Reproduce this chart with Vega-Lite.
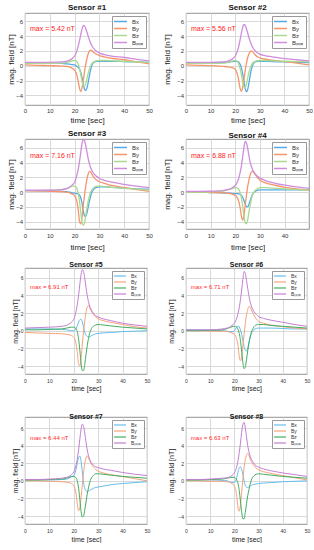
{
"$schema": "https://vega.github.io/schema/vega-lite/v6.json",
"padding": {"left": 7, "top": 3, "right": 0, "bottom": 0},
"config": {
  "font": "Liberation Sans",
  "view": {"stroke": "#777777", "strokeWidth": 0.8},
  "axis": {"domain": false, "ticks": false, "tickSize": 0, "labelColor": "#333333", "titleColor": "#222222", "titleFontWeight": "normal", "labelFlush": false, "gridColor": "#d9d9d9"},
  "title": {"fontWeight": "bold", "color": "#111111"},
  "legend": {"orient": "top-right", "offset": 3, "fillColor": "white", "strokeColor": "#999999", "padding": 2, "symbolType": "M-2.6,0L2.6,0", "symbolStrokeWidth": 1.5, "symbolOffset": 3, "rowPadding": 0, "labelOffset": 8, "labelColor": "#333333"}
},
"datasets": {
"p1": [
{"t":0,"Bx":0.4,"By":0.1,"Bz":0.3,"Bt":0.45},{"t":5,"Bx":0.35,"By":0.05,"Bz":0.3,"Bt":0.45},{"t":10,"Bx":0.35,"By":0.0,"Bz":0.3,"Bt":0.45},{"t":15,"Bx":0.3,"By":-0.05,"Bz":0.35,"Bt":0.5},{"t":17,"Bx":0.25,"By":-0.1,"Bz":0.45,"Bt":0.6},{"t":18,"Bx":0.2,"By":-0.2,"Bz":0.55,"Bt":0.75},{"t":19,"Bx":0.15,"By":-0.35,"Bz":0.65,"Bt":0.95},{"t":20,"Bx":0.1,"By":-0.6,"Bz":0.7,"Bt":1.3},{"t":20.5,"Bx":0.0,"By":-0.9,"Bz":0.65,"Bt":1.65},{"t":21,"Bx":-0.1,"By":-1.4,"Bz":0.5,"Bt":2.1},{"t":21.5,"Bx":-0.25,"By":-2.2,"Bz":0.2,"Bt":2.7},{"t":22,"Bx":-0.5,"By":-3.1,"Bz":-0.4,"Bt":3.4},{"t":22.5,"Bx":-0.9,"By":-3.5,"Bz":-1.2,"Bt":4.2},{"t":23,"Bx":-1.6,"By":-3.0,"Bz":-2.1,"Bt":4.95},{"t":23.5,"Bx":-2.5,"By":-2.0,"Bz":-2.7,"Bt":5.42},{"t":24,"Bx":-3.2,"By":-0.8,"Bz":-2.8,"Bt":5.35},{"t":24.5,"Bx":-3.35,"By":0.2,"Bz":-2.4,"Bt":5.0},{"t":25,"Bx":-3.0,"By":1.0,"Bz":-1.7,"Bt":4.5},{"t":25.5,"Bx":-2.2,"By":1.6,"Bz":-1.0,"Bt":3.95},{"t":26,"Bx":-1.3,"By":2.0,"Bz":-0.4,"Bt":3.45},{"t":26.5,"Bx":-0.5,"By":2.1,"Bz":0.0,"Bt":3.0},{"t":27,"Bx":0.1,"By":2.0,"Bz":0.3,"Bt":2.65},{"t":28,"Bx":0.5,"By":1.7,"Bz":0.55,"Bt":2.2},{"t":29,"Bx":0.6,"By":1.5,"Bz":0.65,"Bt":1.9},{"t":30,"Bx":0.6,"By":1.35,"Bz":0.7,"Bt":1.7},{"t":32,"Bx":0.6,"By":1.2,"Bz":0.7,"Bt":1.5},{"t":35,"Bx":0.6,"By":1.0,"Bz":0.65,"Bt":1.3},{"t":40,"Bx":0.55,"By":0.8,"Bz":0.6,"Bt":1.1},{"t":45,"Bx":0.5,"By":0.5,"Bz":0.5,"Bt":0.85},{"t":50,"Bx":0.45,"By":0.25,"Bz":0.45,"Bt":0.65}
],
"p2": [
{"t":0,"Bx":0.4,"By":0.1,"Bz":0.3,"Bt":0.45},{"t":5,"Bx":0.4,"By":0.05,"Bz":0.3,"Bt":0.45},{"t":10,"Bx":0.4,"By":0.0,"Bz":0.3,"Bt":0.45},{"t":15,"Bx":0.4,"By":-0.1,"Bz":0.35,"Bt":0.5},{"t":17,"Bx":0.45,"By":-0.15,"Bz":0.45,"Bt":0.6},{"t":18,"Bx":0.5,"By":-0.2,"Bz":0.55,"Bt":0.75},{"t":19,"Bx":0.55,"By":-0.3,"Bz":0.65,"Bt":0.95},{"t":20,"Bx":0.6,"By":-0.5,"Bz":0.7,"Bt":1.3},{"t":20.5,"Bx":0.6,"By":-0.8,"Bz":0.65,"Bt":1.65},{"t":21,"Bx":0.55,"By":-1.3,"Bz":0.5,"Bt":2.1},{"t":21.5,"Bx":0.45,"By":-2.1,"Bz":0.2,"Bt":2.7},{"t":22,"Bx":0.2,"By":-3.1,"Bz":-0.4,"Bt":3.5},{"t":22.5,"Bx":-0.3,"By":-3.45,"Bz":-1.2,"Bt":4.35},{"t":23,"Bx":-1.0,"By":-3.0,"Bz":-2.1,"Bt":5.1},{"t":23.5,"Bx":-2.0,"By":-2.0,"Bz":-2.8,"Bt":5.56},{"t":24,"Bx":-3.0,"By":-0.8,"Bz":-3.0,"Bt":5.45},{"t":24.5,"Bx":-3.5,"By":0.2,"Bz":-2.6,"Bt":5.05},{"t":25,"Bx":-3.3,"By":1.0,"Bz":-1.8,"Bt":4.5},{"t":25.5,"Bx":-2.5,"By":1.5,"Bz":-1.0,"Bt":3.9},{"t":26,"Bx":-1.5,"By":1.85,"Bz":-0.4,"Bt":3.35},{"t":26.5,"Bx":-0.6,"By":2.0,"Bz":0.0,"Bt":2.9},{"t":27,"Bx":0.0,"By":1.9,"Bz":0.3,"Bt":2.55},{"t":28,"Bx":0.5,"By":1.5,"Bz":0.55,"Bt":2.05},{"t":29,"Bx":0.6,"By":1.2,"Bz":0.65,"Bt":1.75},{"t":30,"Bx":0.6,"By":1.05,"Bz":0.7,"Bt":1.55},{"t":32,"Bx":0.6,"By":0.9,"Bz":0.7,"Bt":1.35},{"t":35,"Bx":0.55,"By":0.75,"Bz":0.65,"Bt":1.2},{"t":40,"Bx":0.5,"By":0.55,"Bz":0.6,"Bt":0.95},{"t":45,"Bx":0.45,"By":0.35,"Bz":0.55,"Bt":0.8},{"t":50,"Bx":0.4,"By":0.1,"Bz":0.5,"Bt":0.65}
],
"p3": [
{"t":0,"Bx":0.2,"By":0.2,"Bz":0.2,"Bt":0.25},{"t":5,"Bx":0.2,"By":0.15,"Bz":0.2,"Bt":0.25},{"t":10,"Bx":0.15,"By":0.1,"Bz":0.25,"Bt":0.25},{"t":15,"Bx":0.1,"By":0.05,"Bz":0.35,"Bt":0.35},{"t":17,"Bx":0.05,"By":0.0,"Bz":0.5,"Bt":0.5},{"t":18,"Bx":0.0,"By":-0.1,"Bz":0.65,"Bt":0.7},{"t":19,"Bx":-0.1,"By":-0.25,"Bz":0.8,"Bt":0.95},{"t":20,"Bx":-0.15,"By":-0.5,"Bz":0.8,"Bt":1.35},{"t":20.5,"Bx":-0.2,"By":-0.8,"Bz":0.7,"Bt":1.8},{"t":21,"Bx":-0.2,"By":-1.4,"Bz":0.4,"Bt":2.4},{"t":21.5,"Bx":-0.25,"By":-2.5,"Bz":-0.2,"Bt":3.2},{"t":22,"Bx":-0.4,"By":-4.0,"Bz":-1.3,"Bt":4.2},{"t":22.5,"Bx":-0.8,"By":-4.3,"Bz":-2.8,"Bt":5.4},{"t":23,"Bx":-1.5,"By":-3.4,"Bz":-4.1,"Bt":6.6},{"t":23.5,"Bx":-2.5,"By":-1.8,"Bz":-4.5,"Bt":7.16},{"t":24,"Bx":-3.2,"By":-0.4,"Bz":-4.2,"Bt":6.95},{"t":24.5,"Bx":-3.3,"By":0.8,"Bz":-3.2,"Bt":6.3},{"t":25,"Bx":-2.8,"By":1.8,"Bz":-2.1,"Bt":5.4},{"t":25.5,"Bx":-2.0,"By":2.5,"Bz":-1.2,"Bt":4.5},{"t":26,"Bx":-1.2,"By":2.8,"Bz":-0.5,"Bt":3.8},{"t":26.5,"Bx":-0.5,"By":2.7,"Bz":0.0,"Bt":3.3},{"t":27,"Bx":0.0,"By":2.4,"Bz":0.3,"Bt":2.9},{"t":28,"Bx":0.5,"By":1.9,"Bz":0.65,"Bt":2.4},{"t":29,"Bx":0.65,"By":1.6,"Bz":0.8,"Bt":2.1},{"t":30,"Bx":0.7,"By":1.4,"Bz":0.8,"Bt":1.85},{"t":32,"Bx":0.7,"By":1.2,"Bz":0.75,"Bt":1.6},{"t":35,"Bx":0.65,"By":0.9,"Bz":0.65,"Bt":1.35},{"t":40,"Bx":0.55,"By":0.6,"Bz":0.5,"Bt":1.05},{"t":45,"Bx":0.45,"By":0.35,"Bz":0.4,"Bt":0.8},{"t":50,"Bx":0.4,"By":0.1,"Bz":0.3,"Bt":0.6}
],
"p4": [
{"t":0,"Bx":0.0,"By":0.0,"Bz":0.0,"Bt":0.1},{"t":5,"Bx":0.0,"By":0.0,"Bz":0.0,"Bt":0.1},{"t":10,"Bx":-0.05,"By":-0.05,"Bz":0.05,"Bt":0.12},{"t":15,"Bx":-0.1,"By":-0.1,"Bz":0.15,"Bt":0.2},{"t":17,"Bx":-0.15,"By":-0.15,"Bz":0.3,"Bt":0.35},{"t":18,"Bx":-0.15,"By":-0.2,"Bz":0.4,"Bt":0.45},{"t":19,"Bx":-0.2,"By":-0.3,"Bz":0.5,"Bt":0.65},{"t":20,"Bx":-0.2,"By":-0.45,"Bz":0.6,"Bt":0.9},{"t":20.5,"Bx":-0.2,"By":-0.6,"Bz":0.6,"Bt":1.15},{"t":21,"Bx":-0.2,"By":-0.9,"Bz":0.5,"Bt":1.5},{"t":21.5,"Bx":-0.25,"By":-1.4,"Bz":0.3,"Bt":2.0},{"t":22,"Bx":-0.3,"By":-2.2,"Bz":-0.1,"Bt":2.7},{"t":22.5,"Bx":-0.45,"By":-3.3,"Bz":-0.8,"Bt":3.6},{"t":23,"Bx":-0.7,"By":-3.8,"Bz":-1.9,"Bt":4.8},{"t":23.5,"Bx":-1.1,"By":-3.2,"Bz":-3.2,"Bt":6.0},{"t":24,"Bx":-1.6,"By":-1.8,"Bz":-4.1,"Bt":6.88},{"t":24.5,"Bx":-1.95,"By":-0.5,"Bz":-4.3,"Bt":6.7},{"t":25,"Bx":-2.0,"By":0.7,"Bz":-3.8,"Bt":6.0},{"t":25.5,"Bx":-1.7,"By":1.6,"Bz":-2.8,"Bt":5.0},{"t":26,"Bx":-1.2,"By":2.3,"Bz":-1.8,"Bt":4.1},{"t":26.5,"Bx":-0.7,"By":2.7,"Bz":-1.0,"Bt":3.5},{"t":27,"Bx":-0.3,"By":2.8,"Bz":-0.4,"Bt":3.05},{"t":28,"Bx":0.1,"By":2.4,"Bz":0.2,"Bt":2.5},{"t":29,"Bx":0.25,"By":2.0,"Bz":0.45,"Bt":2.15},{"t":30,"Bx":0.3,"By":1.6,"Bz":0.6,"Bt":1.9},{"t":32,"Bx":0.3,"By":1.3,"Bz":0.6,"Bt":1.6},{"t":35,"Bx":0.3,"By":1.0,"Bz":0.55,"Bt":1.3},{"t":40,"Bx":0.3,"By":0.65,"Bz":0.45,"Bt":0.95},{"t":45,"Bx":0.3,"By":0.45,"Bz":0.35,"Bt":0.7},{"t":49.9,"Bx":0.3,"By":0.3,"Bz":0.3,"Bt":0.5}
],
"p5": [
{"t":0,"Bx":0.2,"By":-0.2,"Bz":0.1,"Bt":0.3},{"t":5,"Bx":0.2,"By":-0.25,"Bz":0.1,"Bt":0.35},{"t":10,"Bx":0.2,"By":-0.3,"Bz":0.15,"Bt":0.4},{"t":15,"Bx":0.15,"By":-0.35,"Bz":0.2,"Bt":0.5},{"t":17,"Bx":0.1,"By":-0.4,"Bz":0.3,"Bt":0.6},{"t":18,"Bx":0.05,"By":-0.45,"Bz":0.35,"Bt":0.75},{"t":19,"Bx":0.0,"By":-0.55,"Bz":0.4,"Bt":0.95},{"t":20,"Bx":0.0,"By":-0.75,"Bz":0.4,"Bt":1.3},{"t":20.5,"Bx":0.1,"By":-1.0,"Bz":0.35,"Bt":1.7},{"t":21,"Bx":0.3,"By":-1.6,"Bz":0.2,"Bt":2.3},{"t":21.5,"Bx":0.6,"By":-2.6,"Bz":-0.2,"Bt":3.1},{"t":22,"Bx":1.0,"By":-3.8,"Bz":-1.0,"Bt":4.1},{"t":22.5,"Bx":1.25,"By":-4.0,"Bz":-2.3,"Bt":5.3},{"t":23,"Bx":1.3,"By":-3.0,"Bz":-3.7,"Bt":6.4},{"t":23.5,"Bx":1.0,"By":-1.5,"Bz":-4.5,"Bt":6.91},{"t":24,"Bx":0.4,"By":-0.1,"Bz":-4.5,"Bt":6.7},{"t":24.5,"Bx":-0.2,"By":1.1,"Bz":-3.8,"Bt":5.9},{"t":25,"Bx":-0.5,"By":2.1,"Bz":-2.7,"Bt":4.9},{"t":25.5,"Bx":-0.65,"By":2.7,"Bz":-1.7,"Bt":4.0},{"t":26,"Bx":-0.7,"By":2.85,"Bz":-0.9,"Bt":3.3},{"t":26.5,"Bx":-0.7,"By":2.6,"Bz":-0.3,"Bt":2.8},{"t":27,"Bx":-0.6,"By":2.3,"Bz":0.1,"Bt":2.45},{"t":28,"Bx":-0.45,"By":1.85,"Bz":0.5,"Bt":2.0},{"t":29,"Bx":-0.35,"By":1.55,"Bz":0.65,"Bt":1.7},{"t":30,"Bx":-0.3,"By":1.35,"Bz":0.7,"Bt":1.55},{"t":32,"Bx":-0.25,"By":1.15,"Bz":0.65,"Bt":1.35},{"t":35,"Bx":-0.2,"By":0.95,"Bz":0.55,"Bt":1.15},{"t":40,"Bx":-0.1,"By":0.7,"Bz":0.4,"Bt":0.85},{"t":45,"Bx":-0.05,"By":0.45,"Bz":0.3,"Bt":0.65},{"t":50,"Bx":0.0,"By":0.3,"Bz":0.2,"Bt":0.5}
],
"p6": [
{"t":0,"Bx":0.1,"By":0.0,"Bz":0.0,"Bt":0.1},{"t":5,"Bx":0.1,"By":0.0,"Bz":0.0,"Bt":0.1},{"t":10,"Bx":0.05,"By":-0.05,"Bz":0.05,"Bt":0.1},{"t":15,"Bx":0.0,"By":-0.05,"Bz":0.1,"Bt":0.2},{"t":17,"Bx":-0.05,"By":-0.1,"Bz":0.25,"Bt":0.3},{"t":18,"Bx":-0.1,"By":-0.15,"Bz":0.35,"Bt":0.4},{"t":19,"Bx":-0.1,"By":-0.25,"Bz":0.45,"Bt":0.6},{"t":20,"Bx":0.0,"By":-0.4,"Bz":0.5,"Bt":0.85},{"t":20.5,"Bx":0.2,"By":-0.6,"Bz":0.5,"Bt":1.1},{"t":21,"Bx":0.45,"By":-1.0,"Bz":0.4,"Bt":1.45},{"t":21.5,"Bx":0.55,"By":-1.7,"Bz":0.15,"Bt":1.95},{"t":22,"Bx":0.45,"By":-2.9,"Bz":-0.3,"Bt":2.6},{"t":22.5,"Bx":0.1,"By":-3.4,"Bz":-1.1,"Bt":3.5},{"t":23,"Bx":-0.4,"By":-2.9,"Bz":-2.3,"Bt":4.6},{"t":23.5,"Bx":-1.1,"By":-1.7,"Bz":-3.6,"Bt":5.8},{"t":24,"Bx":-1.8,"By":-0.4,"Bz":-4.3,"Bt":6.71},{"t":24.5,"Bx":-2.2,"By":0.8,"Bz":-4.1,"Bt":6.5},{"t":25,"Bx":-2.3,"By":1.8,"Bz":-3.3,"Bt":5.7},{"t":25.5,"Bx":-2.0,"By":2.4,"Bz":-2.3,"Bt":4.8},{"t":26,"Bx":-1.4,"By":2.75,"Bz":-1.4,"Bt":3.95},{"t":26.5,"Bx":-0.8,"By":2.7,"Bz":-0.7,"Bt":3.3},{"t":27,"Bx":-0.3,"By":2.4,"Bz":-0.2,"Bt":2.8},{"t":28,"Bx":0.1,"By":1.8,"Bz":0.4,"Bt":2.2},{"t":29,"Bx":0.25,"By":1.35,"Bz":0.65,"Bt":1.85},{"t":30,"Bx":0.3,"By":1.05,"Bz":0.7,"Bt":1.6},{"t":32,"Bx":0.3,"By":0.85,"Bz":0.7,"Bt":1.4},{"t":35,"Bx":0.3,"By":0.65,"Bz":0.6,"Bt":1.2},{"t":40,"Bx":0.25,"By":0.45,"Bz":0.5,"Bt":0.95},{"t":45,"Bx":0.2,"By":0.3,"Bz":0.4,"Bt":0.7},{"t":50,"Bx":0.2,"By":0.2,"Bz":0.3,"Bt":0.5}
],
"p7": [
{"t":0,"Bx":0.1,"By":0.0,"Bz":0.1,"Bt":0.15},{"t":5,"Bx":0.1,"By":0.0,"Bz":0.1,"Bt":0.15},{"t":10,"Bx":0.1,"By":-0.05,"Bz":0.15,"Bt":0.2},{"t":15,"Bx":0.15,"By":-0.1,"Bz":0.2,"Bt":0.3},{"t":17,"Bx":0.2,"By":-0.15,"Bz":0.3,"Bt":0.4},{"t":18,"Bx":0.3,"By":-0.2,"Bz":0.4,"Bt":0.5},{"t":19,"Bx":0.45,"By":-0.3,"Bz":0.5,"Bt":0.7},{"t":20,"Bx":0.6,"By":-0.55,"Bz":0.5,"Bt":1.0},{"t":20.5,"Bx":0.9,"By":-0.9,"Bz":0.45,"Bt":1.35},{"t":21,"Bx":1.4,"By":-1.6,"Bz":0.3,"Bt":1.85},{"t":21.5,"Bx":2.1,"By":-2.8,"Bz":-0.1,"Bt":2.6},{"t":22,"Bx":2.7,"By":-3.4,"Bz":-0.9,"Bt":3.6},{"t":22.5,"Bx":2.8,"By":-3.0,"Bz":-2.2,"Bt":4.8},{"t":23,"Bx":2.2,"By":-1.8,"Bz":-3.5,"Bt":5.9},{"t":23.5,"Bx":1.0,"By":-0.4,"Bz":-4.1,"Bt":6.44},{"t":24,"Bx":-0.2,"By":0.9,"Bz":-4.0,"Bt":6.2},{"t":24.5,"Bx":-0.9,"By":2.0,"Bz":-3.3,"Bt":5.4},{"t":25,"Bx":-1.15,"By":2.6,"Bz":-2.4,"Bt":4.4},{"t":25.5,"Bx":-1.2,"By":2.85,"Bz":-1.5,"Bt":3.5},{"t":26,"Bx":-1.15,"By":2.6,"Bz":-0.8,"Bt":2.9},{"t":26.5,"Bx":-1.1,"By":2.3,"Bz":-0.2,"Bt":2.45},{"t":27,"Bx":-1.0,"By":2.0,"Bz":0.2,"Bt":2.15},{"t":28,"Bx":-0.85,"By":1.6,"Bz":0.6,"Bt":1.8},{"t":29,"Bx":-0.75,"By":1.3,"Bz":0.8,"Bt":1.6},{"t":30,"Bx":-0.7,"By":1.1,"Bz":0.8,"Bt":1.5},{"t":32,"Bx":-0.6,"By":0.9,"Bz":0.75,"Bt":1.35},{"t":35,"Bx":-0.45,"By":0.7,"Bz":0.65,"Bt":1.2},{"t":40,"Bx":-0.3,"By":0.5,"Bz":0.5,"Bt":0.95},{"t":45,"Bx":-0.2,"By":0.25,"Bz":0.4,"Bt":0.75},{"t":50,"Bx":-0.1,"By":0.0,"Bz":0.3,"Bt":0.6}
],
"p8": [
{"t":0,"Bx":0.1,"By":0.0,"Bz":0.1,"Bt":0.15},{"t":5,"Bx":0.1,"By":0.0,"Bz":0.1,"Bt":0.15},{"t":10,"Bx":0.1,"By":-0.05,"Bz":0.15,"Bt":0.2},{"t":15,"Bx":0.05,"By":-0.05,"Bz":0.2,"Bt":0.3},{"t":17,"Bx":0.0,"By":-0.1,"Bz":0.3,"Bt":0.35},{"t":18,"Bx":-0.1,"By":-0.15,"Bz":0.35,"Bt":0.45},{"t":19,"Bx":-0.2,"By":-0.3,"Bz":0.4,"Bt":0.6},{"t":20,"Bx":-0.15,"By":-0.6,"Bz":0.4,"Bt":0.9},{"t":20.5,"Bx":0.0,"By":-1.0,"Bz":0.3,"Bt":1.2},{"t":21,"Bx":0.4,"By":-1.8,"Bz":0.1,"Bt":1.65},{"t":21.5,"Bx":1.0,"By":-3.1,"Bz":-0.3,"Bt":2.3},{"t":22,"Bx":1.5,"By":-3.45,"Bz":-1.1,"Bt":3.2},{"t":22.5,"Bx":1.6,"By":-2.7,"Bz":-2.3,"Bt":4.3},{"t":23,"Bx":1.3,"By":-1.3,"Bz":-3.5,"Bt":5.5},{"t":23.5,"Bx":0.7,"By":0.2,"Bz":-4.3,"Bt":6.4},{"t":24,"Bx":0.0,"By":1.5,"Bz":-4.3,"Bt":6.63},{"t":24.5,"Bx":-0.5,"By":2.4,"Bz":-3.6,"Bt":6.0},{"t":25,"Bx":-0.7,"By":2.9,"Bz":-2.6,"Bt":5.0},{"t":25.5,"Bx":-0.75,"By":3.1,"Bz":-1.7,"Bt":4.0},{"t":26,"Bx":-0.7,"By":2.9,"Bz":-1.0,"Bt":3.3},{"t":26.5,"Bx":-0.6,"By":2.5,"Bz":-0.4,"Bt":2.8},{"t":27,"Bx":-0.5,"By":2.2,"Bz":0.1,"Bt":2.45},{"t":28,"Bx":-0.4,"By":1.75,"Bz":0.55,"Bt":2.0},{"t":29,"Bx":-0.35,"By":1.45,"Bz":0.75,"Bt":1.7},{"t":30,"Bx":-0.3,"By":1.25,"Bz":0.8,"Bt":1.55},{"t":32,"Bx":-0.25,"By":1.05,"Bz":0.75,"Bt":1.35},{"t":35,"Bx":-0.2,"By":0.85,"Bz":0.65,"Bt":1.15},{"t":40,"Bx":-0.1,"By":0.6,"Bz":0.5,"Bt":0.9},{"t":45,"Bx":-0.05,"By":0.35,"Bz":0.4,"Bt":0.7},{"t":50,"Bx":0.0,"By":0.1,"Bz":0.3,"Bt":0.5}
]
},
"spacing": 8,
"resolve": {"scale": {"color": "independent"}},
"vconcat": [
{"spacing": 4, "resolve": {"scale": {"color": "independent"}}, "vconcat": [
 {"spacing": 10, "resolve": {"scale": {"color": "independent"}}, "hconcat": [
  {"width": 124, "height": 92, "title": {"text": "Sensor #1", "fontSize": 8, "offset": 1},
   "data": {"name": "p1"}, "transform": [{"fold": ["Bx","By","Bz","Bt"], "as": ["k","v"]}],
   "resolve": {"axis": {"x": "independent", "y": "independent"}},
   "layer": [
    {"mark": {"type": "line", "strokeWidth": 1.3, "interpolate": "monotone"},
     "encoding": {
      "x": {"field": "t", "type": "quantitative", "scale": {"domain": [0,50], "nice": false}, "axis": {"title": "time [sec]", "values": [0,10,20,30,40,50], "labelFontSize": 6, "titleFontSize": 8, "labelPadding": 2, "titlePadding": 3}},
      "y": {"field": "v", "type": "quantitative", "scale": {"domain": [-5.3,7.1], "nice": false}, "axis": {"title": "mag. field [nT]", "values": [-4,-2,0,2,4,6], "labelFontSize": 6, "titleFontSize": 8, "labelPadding": 2.5, "titlePadding": 0}},
      "color": {"field": "k", "type": "nominal", "scale": {"domain": ["Bx","By","Bz","Bt"], "range": ["#55aae6","#f7956a","#a8db8f","#cf8ddc"]}, "legend": {"title": null, "labelFontSize": 6, "symbolSize": 25, "labelExpr": "datum.label == 'Bt' ? 'Bₜₒₜₐₗ' : datum.label"}}
     }},
    {"data": {"values": [{}]}, "mark": {"type": "text", "color": "#ff1a1a", "fontSize": 7, "align": "left", "baseline": "middle"},
     "encoding": {
      "x": {"datum": 2, "axis": {"orient": "bottom", "values": [2,4,6,8,12,14,16,18,22,24,26,28,32,34,36,38,42,44,46,48], "labels": false, "title": null, "gridColor": "#e6e6e6", "gridDash": [1,1.5]}},
      "y": {"datum": 4.9, "axis": {"orient": "left", "values": [-5,-4.5,-3.5,-3,-2.5,-1.5,-1,-0.5,0.5,1,1.5,2.5,3,3.5,4.5,5,5.5,6.5,7], "labels": false, "title": null, "gridColor": "#e6e6e6", "gridDash": [1,1.5]}},
      "text": {"value": "max = 5.42 nT"}}}
   ]},
  {"width": 123, "height": 92, "title": {"text": "Sensor #2", "fontSize": 8, "offset": 1},
   "data": {"name": "p2"}, "transform": [{"fold": ["Bx","By","Bz","Bt"], "as": ["k","v"]}],
   "resolve": {"axis": {"x": "independent", "y": "independent"}},
   "layer": [
    {"mark": {"type": "line", "strokeWidth": 1.3, "interpolate": "monotone"},
     "encoding": {
      "x": {"field": "t", "type": "quantitative", "scale": {"domain": [0,50], "nice": false}, "axis": {"title": "time [sec]", "values": [0,10,20,30,40,50], "labelFontSize": 6, "titleFontSize": 8, "labelPadding": 2, "titlePadding": 3}},
      "y": {"field": "v", "type": "quantitative", "scale": {"domain": [-5.3,7.1], "nice": false}, "axis": {"title": "mag. field [nT]", "values": [-4,-2,0,2,4,6], "labelFontSize": 6, "titleFontSize": 8, "labelPadding": 2.5, "titlePadding": 5}},
      "color": {"field": "k", "type": "nominal", "scale": {"domain": ["Bx","By","Bz","Bt"], "range": ["#55aae6","#f7956a","#a8db8f","#cf8ddc"]}, "legend": {"title": null, "labelFontSize": 6, "symbolSize": 25, "labelExpr": "datum.label == 'Bt' ? 'Bₜₒₜₐₗ' : datum.label"}}
     }},
    {"data": {"values": [{}]}, "mark": {"type": "text", "color": "#ff1a1a", "fontSize": 7, "align": "left", "baseline": "middle"},
     "encoding": {
      "x": {"datum": 2, "axis": {"orient": "bottom", "values": [2,4,6,8,12,14,16,18,22,24,26,28,32,34,36,38,42,44,46,48], "labels": false, "title": null, "gridColor": "#e6e6e6", "gridDash": [1,1.5]}},
      "y": {"datum": 4.9, "axis": {"orient": "left", "values": [-5,-4.5,-3.5,-3,-2.5,-1.5,-1,-0.5,0.5,1,1.5,2.5,3,3.5,4.5,5,5.5,6.5,7], "labels": false, "title": null, "gridColor": "#e6e6e6", "gridDash": [1,1.5]}},
      "text": {"value": "max = 5.56 nT"}}}
   ]}
 ]},
 {"spacing": 10, "resolve": {"scale": {"color": "independent"}}, "hconcat": [
  {"width": 124, "height": 90, "title": {"text": "Sensor #3", "fontSize": 8, "offset": -1},
   "data": {"name": "p3"}, "transform": [{"fold": ["Bx","By","Bz","Bt"], "as": ["k","v"]}],
   "resolve": {"axis": {"x": "independent", "y": "independent"}},
   "layer": [
    {"mark": {"type": "line", "strokeWidth": 1.3, "interpolate": "monotone"},
     "encoding": {
      "x": {"field": "t", "type": "quantitative", "scale": {"domain": [0,50], "nice": false}, "axis": {"title": "time [sec]", "values": [0,10,20,30,40,50], "labelFontSize": 6, "titleFontSize": 8, "labelPadding": 3, "titlePadding": 5}},
      "y": {"field": "v", "type": "quantitative", "scale": {"domain": [-5,7.2], "nice": false}, "axis": {"title": "mag. field [nT]", "values": [-4,-2,0,2,4,6], "labelFontSize": 6, "titleFontSize": 8, "labelPadding": 2.5, "titlePadding": 0}},
      "color": {"field": "k", "type": "nominal", "scale": {"domain": ["Bx","By","Bz","Bt"], "range": ["#55aae6","#f7956a","#a8db8f","#cf8ddc"]}, "legend": {"title": null, "labelFontSize": 6, "symbolSize": 25, "labelExpr": "datum.label == 'Bt' ? 'Bₜₒₜₐₗ' : datum.label"}}
     }},
    {"data": {"values": [{}]}, "mark": {"type": "text", "color": "#ff1a1a", "fontSize": 7, "align": "left", "baseline": "middle"},
     "encoding": {
      "x": {"datum": 2, "axis": {"orient": "bottom", "values": [2,4,6,8,12,14,16,18,22,24,26,28,32,34,36,38,42,44,46,48], "labels": false, "title": null, "gridColor": "#e6e6e6", "gridDash": [1,1.5]}},
      "y": {"datum": 4.9, "axis": {"orient": "left", "values": [-4.5,-3.5,-3,-2.5,-1.5,-1,-0.5,0.5,1,1.5,2.5,3,3.5,4.5,5,5.5,6.5,7], "labels": false, "title": null, "gridColor": "#e6e6e6", "gridDash": [1,1.5]}},
      "text": {"value": "max = 7.16 nT"}}}
   ]},
  {"width": 123, "height": 90, "title": {"text": "Sensor #4", "fontSize": 8, "offset": -1},
   "data": {"name": "p4"}, "transform": [{"fold": ["Bx","By","Bz","Bt"], "as": ["k","v"]}],
   "resolve": {"axis": {"x": "independent", "y": "independent"}},
   "layer": [
    {"mark": {"type": "line", "strokeWidth": 1.3, "interpolate": "monotone"},
     "encoding": {
      "x": {"field": "t", "type": "quantitative", "scale": {"domain": [0,49.9], "nice": false}, "axis": {"title": "time [sec]", "values": [0,10,20,30,40], "labelFontSize": 6, "titleFontSize": 8, "labelPadding": 3, "titlePadding": 5}},
      "y": {"field": "v", "type": "quantitative", "scale": {"domain": [-5,7.2], "nice": false}, "axis": {"title": "mag. field [nT]", "values": [-4,-2,0,2,4,6], "labelFontSize": 6, "titleFontSize": 8, "labelPadding": 2.5, "titlePadding": 5}},
      "color": {"field": "k", "type": "nominal", "scale": {"domain": ["Bx","By","Bz","Bt"], "range": ["#55aae6","#f7956a","#a8db8f","#cf8ddc"]}, "legend": {"title": null, "labelFontSize": 6, "symbolSize": 25, "labelExpr": "datum.label == 'Bt' ? 'Bₜₒₜₐₗ' : datum.label"}}
     }},
    {"data": {"values": [{}]}, "mark": {"type": "text", "color": "#ff1a1a", "fontSize": 7, "align": "left", "baseline": "middle"},
     "encoding": {
      "x": {"datum": 2, "axis": {"orient": "bottom", "values": [2,4,6,8,12,14,16,18,22,24,26,28,32,34,36,38,42,44,46,48], "labels": false, "title": null, "gridColor": "#e6e6e6", "gridDash": [1,1.5]}},
      "y": {"datum": 4.9, "axis": {"orient": "left", "values": [-4.5,-3.5,-3,-2.5,-1.5,-1,-0.5,0.5,1,1.5,2.5,3,3.5,4.5,5,5.5,6.5,7], "labels": false, "title": null, "gridColor": "#e6e6e6", "gridDash": [1,1.5]}},
      "text": {"value": "max = 6.88 nT"}}}
   ]}
 ]}
]},
{"spacing": 20, "resolve": {"scale": {"color": "independent"}}, "vconcat": [
 {"spacing": 16, "resolve": {"scale": {"color": "independent"}}, "hconcat": [
  {"width": 122, "height": 106, "title": {"text": "Sensor #5", "fontSize": 7, "offset": 0},
   "data": {"name": "p5"}, "transform": [{"fold": ["Bx","By","Bz","Bt"], "as": ["k","v"]}],
   "resolve": {"axis": {"x": "independent", "y": "independent"}},
   "layer": [
    {"mark": {"type": "line", "strokeWidth": 1, "interpolate": "monotone"},
     "encoding": {
      "x": {"field": "t", "type": "quantitative", "scale": {"domain": [0,50], "nice": false}, "axis": {"title": "time [sec]", "values": [0,10,20,30,40,50], "labelFontSize": 5, "titleFontSize": 7, "labelPadding": 4, "titlePadding": 1}},
      "y": {"field": "v", "type": "quantitative", "scale": {"domain": [-4.9,7.1], "nice": false}, "axis": {"title": "mag. field [nT]", "values": [-4,-2,0,2,4,6], "labelFontSize": 5, "titleFontSize": 7, "labelPadding": 2, "titlePadding": -1}},
      "color": {"field": "k", "type": "nominal", "scale": {"domain": ["Bx","By","Bz","Bt"], "range": ["#66bdec","#f7a27a","#43ad5f","#c47fd3"]}, "legend": {"title": null, "labelFontSize": 5, "symbolSize": 16, "symbolType": "M-3,0L3,0", "symbolStrokeWidth": 1.2, "labelExpr": "datum.label == 'Bt' ? 'Bₜₒₜₐₗ' : datum.label"}}
     }},
    {"data": {"values": [{}]}, "mark": {"type": "text", "color": "#ff2a2a", "fontSize": 6, "align": "left", "baseline": "middle"},
     "encoding": {
      "x": {"datum": 2, "axis": {"orient": "bottom", "values": [2,4,6,8,12,14,16,18,22,24,26,28,32,34,36,38,42,44,46,48], "labels": false, "title": null, "gridColor": "#ececec", "gridDash": [1,1.5]}},
      "y": {"datum": 4.9, "axis": {"orient": "left", "values": [-4.5,-3.5,-3,-2.5,-1.5,-1,-0.5,0.5,1,1.5,2.5,3,3.5,4.5,5,5.5,6.5,7], "labels": false, "title": null, "gridColor": "#ececec", "gridDash": [1,1.5]}},
      "text": {"value": "max = 6.91 nT"}}}
   ]},
  {"width": 121, "height": 106, "title": {"text": "Sensor #6", "fontSize": 7, "offset": 0},
   "data": {"name": "p6"}, "transform": [{"fold": ["Bx","By","Bz","Bt"], "as": ["k","v"]}],
   "resolve": {"axis": {"x": "independent", "y": "independent"}},
   "layer": [
    {"mark": {"type": "line", "strokeWidth": 1, "interpolate": "monotone"},
     "encoding": {
      "x": {"field": "t", "type": "quantitative", "scale": {"domain": [0,50], "nice": false}, "axis": {"title": "time [sec]", "values": [0,10,20,30,40,50], "labelFontSize": 5, "titleFontSize": 7, "labelPadding": 4, "titlePadding": 1}},
      "y": {"field": "v", "type": "quantitative", "scale": {"domain": [-4.9,7.1], "nice": false}, "axis": {"title": "mag. field [nT]", "values": [-4,-2,0,2,4,6], "labelFontSize": 5, "titleFontSize": 7, "labelPadding": 2.5, "titlePadding": 3}},
      "color": {"field": "k", "type": "nominal", "scale": {"domain": ["Bx","By","Bz","Bt"], "range": ["#66bdec","#f7a27a","#43ad5f","#c47fd3"]}, "legend": {"title": null, "labelFontSize": 5, "symbolSize": 16, "symbolType": "M-3,0L3,0", "symbolStrokeWidth": 1.2, "labelExpr": "datum.label == 'Bt' ? 'Bₜₒₜₐₗ' : datum.label"}}
     }},
    {"data": {"values": [{}]}, "mark": {"type": "text", "color": "#ff2a2a", "fontSize": 6, "align": "left", "baseline": "middle"},
     "encoding": {
      "x": {"datum": 2, "axis": {"orient": "bottom", "values": [2,4,6,8,12,14,16,18,22,24,26,28,32,34,36,38,42,44,46,48], "labels": false, "title": null, "gridColor": "#ececec", "gridDash": [1,1.5]}},
      "y": {"datum": 4.9, "axis": {"orient": "left", "values": [-4.5,-3.5,-3,-2.5,-1.5,-1,-0.5,0.5,1,1.5,2.5,3,3.5,4.5,5,5.5,6.5,7], "labels": false, "title": null, "gridColor": "#ececec", "gridDash": [1,1.5]}},
      "text": {"value": "max = 6.71 nT"}}}
   ]}
 ]},
 {"spacing": 16, "resolve": {"scale": {"color": "independent"}}, "hconcat": [
  {"width": 122, "height": 107, "title": {"text": "Sensor #7", "fontSize": 7, "offset": -3},
   "data": {"name": "p7"}, "transform": [{"fold": ["Bx","By","Bz","Bt"], "as": ["k","v"]}],
   "resolve": {"axis": {"x": "independent", "y": "independent"}},
   "layer": [
    {"mark": {"type": "line", "strokeWidth": 1, "interpolate": "monotone"},
     "encoding": {
      "x": {"field": "t", "type": "quantitative", "scale": {"domain": [0,50], "nice": false}, "axis": {"title": "time [sec]", "values": [0,10,20,30,40,50], "labelFontSize": 5, "titleFontSize": 7, "labelPadding": 4, "titlePadding": 2}},
      "y": {"field": "v", "type": "quantitative", "scale": {"domain": [-4.9,7.25], "nice": false}, "axis": {"title": "mag. field [nT]", "values": [-4,-2,0,2,4,6], "labelFontSize": 5, "titleFontSize": 7, "labelPadding": 2, "titlePadding": -1}},
      "color": {"field": "k", "type": "nominal", "scale": {"domain": ["Bx","By","Bz","Bt"], "range": ["#66bdec","#f7a27a","#43ad5f","#c47fd3"]}, "legend": {"title": null, "labelFontSize": 5, "symbolSize": 16, "symbolType": "M-3,0L3,0", "symbolStrokeWidth": 1.2, "labelExpr": "datum.label == 'Bt' ? 'Bₜₒₜₐₗ' : datum.label"}}
     }},
    {"data": {"values": [{}]}, "mark": {"type": "text", "color": "#ff2a2a", "fontSize": 6, "align": "left", "baseline": "middle"},
     "encoding": {
      "x": {"datum": 2, "axis": {"orient": "bottom", "values": [2,4,6,8,12,14,16,18,22,24,26,28,32,34,36,38,42,44,46,48], "labels": false, "title": null, "gridColor": "#ececec", "gridDash": [1,1.5]}},
      "y": {"datum": 4.9, "axis": {"orient": "left", "values": [-4.5,-3.5,-3,-2.5,-1.5,-1,-0.5,0.5,1,1.5,2.5,3,3.5,4.5,5,5.5,6.5,7], "labels": false, "title": null, "gridColor": "#ececec", "gridDash": [1,1.5]}},
      "text": {"value": "max = 6.44 nT"}}}
   ]},
  {"width": 121, "height": 107, "title": {"text": "Sensor #8", "fontSize": 7, "offset": -3},
   "data": {"name": "p8"}, "transform": [{"fold": ["Bx","By","Bz","Bt"], "as": ["k","v"]}],
   "resolve": {"axis": {"x": "independent", "y": "independent"}},
   "layer": [
    {"mark": {"type": "line", "strokeWidth": 1, "interpolate": "monotone"},
     "encoding": {
      "x": {"field": "t", "type": "quantitative", "scale": {"domain": [0,50], "nice": false}, "axis": {"title": "time [sec]", "values": [0,10,20,30,40,50], "labelFontSize": 5, "titleFontSize": 7, "labelPadding": 4, "titlePadding": 2}},
      "y": {"field": "v", "type": "quantitative", "scale": {"domain": [-4.9,7.25], "nice": false}, "axis": {"title": "mag. field [nT]", "values": [-4,-2,0,2,4,6], "labelFontSize": 5, "titleFontSize": 7, "labelPadding": 2.5, "titlePadding": 3}},
      "color": {"field": "k", "type": "nominal", "scale": {"domain": ["Bx","By","Bz","Bt"], "range": ["#66bdec","#f7a27a","#43ad5f","#c47fd3"]}, "legend": {"title": null, "labelFontSize": 5, "symbolSize": 16, "symbolType": "M-3,0L3,0", "symbolStrokeWidth": 1.2, "labelExpr": "datum.label == 'Bt' ? 'Bₜₒₜₐₗ' : datum.label"}}
     }},
    {"data": {"values": [{}]}, "mark": {"type": "text", "color": "#ff2a2a", "fontSize": 6, "align": "left", "baseline": "middle"},
     "encoding": {
      "x": {"datum": 2, "axis": {"orient": "bottom", "values": [2,4,6,8,12,14,16,18,22,24,26,28,32,34,36,38,42,44,46,48], "labels": false, "title": null, "gridColor": "#ececec", "gridDash": [1,1.5]}},
      "y": {"datum": 4.9, "axis": {"orient": "left", "values": [-4.5,-3.5,-3,-2.5,-1.5,-1,-0.5,0.5,1,1.5,2.5,3,3.5,4.5,5,5.5,6.5,7], "labels": false, "title": null, "gridColor": "#ececec", "gridDash": [1,1.5]}},
      "text": {"value": "max = 6.63 nT"}}}
   ]}
 ]}
]}
]
}
